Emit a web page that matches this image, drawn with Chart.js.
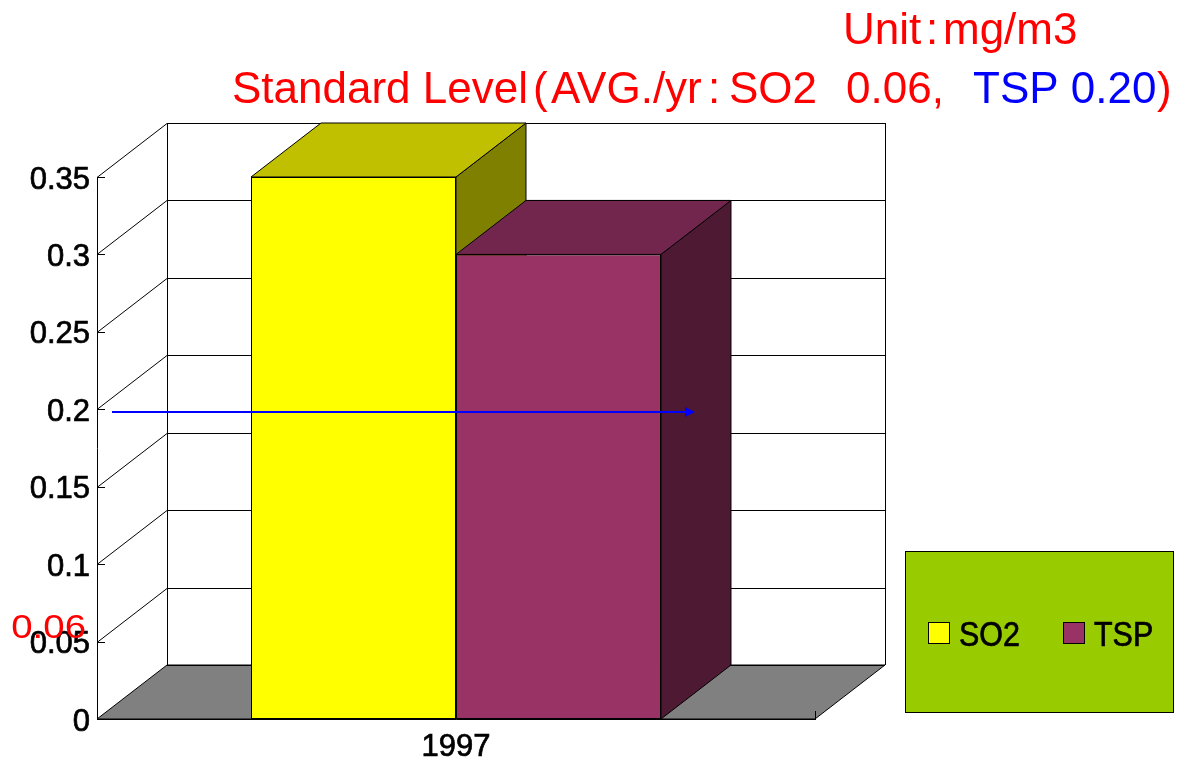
<!DOCTYPE html>
<html>
<head>
<meta charset="utf-8">
<title>SO2 and TSP 1997</title>
<script src="https://cdn.jsdelivr.net/npm/chart.js@4/dist/chart.umd.min.js"></script>
<style>
  html, body { margin: 0; padding: 0; background: #fff; overflow: hidden; }
  canvas { display: block; }
</style>
</head>
<body>
<canvas id="chart" width="1178" height="764"></canvas>
<script>
const categories = ["1997"];
const so2Values = [0.35];
const tspValues = [0.30];
const yTickLabels = ["0", "0.05", "0.1", "0.15", "0.2", "0.25", "0.3", "0.35"];
const so2Standard = 0.06;
const tspArrowValue = 0.198;

const FONT = '"Liberation Sans", Arial, sans-serif';
const DEPTH_X = 70;
const DEPTH_Y = 54;

const so2Colors = { front: "#FFFF00", top: "#C0C000", side: "#808000" };
const tspColors = { front: "#993366", top: "#73264D", side: "#4D1933" };

function poly(ctx, points, fill) {
  ctx.beginPath();
  points.forEach((p, i) => (i ? ctx.lineTo(p[0], p[1]) : ctx.moveTo(p[0], p[1])));
  ctx.closePath();
  if (fill) {
    ctx.fillStyle = fill;
    ctx.fill();
  }
  ctx.strokeStyle = "#000";
  ctx.lineWidth = 1;
  ctx.stroke();
}

function line(ctx, x1, y1, x2, y2) {
  ctx.beginPath();
  ctx.moveTo(x1, y1);
  ctx.lineTo(x2, y2);
  ctx.strokeStyle = "#000";
  ctx.lineWidth = 1;
  ctx.stroke();
}

// stretch squeezes the glyphs sideways, the reference text is not at Arial's own proportions
function text(ctx, str, x, y, font, color, opts = {}) {
  ctx.save();
  ctx.translate(x, y);
  ctx.scale(opts.stretch || 1, 1);
  ctx.font = font;
  ctx.fillStyle = color;
  ctx.textAlign = opts.align || "left";
  ctx.textBaseline = "alphabetic";
  ctx.fillText(str, 0, 0);
  if (opts.stroke) {
    ctx.strokeStyle = color;
    ctx.lineWidth = opts.stroke;
    ctx.strokeText(str, 0, 0);
  }
  ctx.restore();
}

// back wall, floor, gridlines and the top/side faces of the bars
const box3dPlugin = {
  id: "box3d",
  beforeDatasetsDraw(chart) {
    const ctx = chart.ctx;
    const { left, right, top, bottom } = chart.chartArea;
    const yScale = chart.scales.y;

    ctx.save();
    poly(ctx, [[left, bottom], [right, bottom], [right + DEPTH_X, bottom - DEPTH_Y], [left + DEPTH_X, bottom - DEPTH_Y]], "#808080");

    yScale.ticks.forEach((tick) => {
      const y = Math.round(yScale.getPixelForValue(tick.value)) + 0.5;
      if (tick.value > 0) {
        line(ctx, left, y, left + DEPTH_X, y - DEPTH_Y);
      }
      line(ctx, left + DEPTH_X, y - DEPTH_Y, right + DEPTH_X, y - DEPTH_Y);
      line(ctx, left, y, left + 8, y);
    });
    line(ctx, left + DEPTH_X + 0.5, top - DEPTH_Y, left + DEPTH_X + 0.5, bottom - DEPTH_Y);
    line(ctx, right + DEPTH_X + 0.5, top - DEPTH_Y, right + DEPTH_X + 0.5, bottom - DEPTH_Y);
    line(ctx, right + 0.5, bottom, right + 0.5, bottom - 8);

    chart.data.datasets.forEach((dataset, i) => {
      const colors = i === 0 ? so2Colors : tspColors;
      chart.getDatasetMeta(i).data.forEach((bar) => {
        const x1 = bar.x - bar.width / 2;
        const x2 = bar.x + bar.width / 2;
        const yTop = bar.y;
        const yBase = bar.base;
        poly(ctx, [[x2, yTop], [x2 + DEPTH_X, yTop - DEPTH_Y], [x2 + DEPTH_X, yBase - DEPTH_Y], [x2, yBase]], colors.side);
        poly(ctx, [[x1, yTop], [x2, yTop], [x2 + DEPTH_X, yTop - DEPTH_Y], [x1 + DEPTH_X, yTop - DEPTH_Y]], colors.top);
      });
    });
    ctx.restore();
  },

  afterDraw(chart) {
    const ctx = chart.ctx;
    const { left } = chart.chartArea;
    const yScale = chart.scales.y;

    ctx.save();

    // blue arrow
    const arrowY = Math.round(yScale.getPixelForValue(tspArrowValue));
    const arrowStart = left + 15;
    const arrowEnd = left + 598;
    ctx.strokeStyle = "#0000FF";
    ctx.lineWidth = 2;
    ctx.beginPath();
    ctx.moveTo(arrowStart, arrowY);
    ctx.lineTo(arrowEnd - 8, arrowY);
    ctx.stroke();
    ctx.fillStyle = "#0000FF";
    ctx.beginPath();
    ctx.moveTo(arrowEnd, arrowY);
    ctx.lineTo(arrowEnd - 10, arrowY - 5);
    ctx.lineTo(arrowEnd - 10, arrowY + 5);
    ctx.closePath();
    ctx.fill();

    // SO2 standard label beside the axis
    text(ctx, so2Standard.toFixed(2), left - 11, yScale.getPixelForValue(so2Standard) + 12, `34px ${FONT}`, "#FF0000", { align: "right", stretch: 1.13 });

    // heading
    const headFont = `44px ${FONT}`;
    text(ctx, "Unit", 843, 44, headFont, "#FF0000");
    text(ctx, ":", 926, 44, headFont, "#FF0000");
    text(ctx, "mg/m3", 943, 44, headFont, "#FF0000");
    text(ctx, "Standard Level", 232, 103, headFont, "#FF0000");
    text(ctx, "(", 533, 103, headFont, "#FF0000");
    text(ctx, "AVG./yr", 551, 103, headFont, "#FF0000");
    text(ctx, ":", 708, 103, headFont, "#FF0000");
    text(ctx, "SO2", 729, 103, headFont, "#FF0000");
    text(ctx, "0.06,", 846, 103, headFont, "#FF0000");
    text(ctx, "TSP 0.20", 973, 103, headFont, "#0000FF");
    text(ctx, ")", 1157, 103, headFont, "#FF0000");

    // legend box
    ctx.fillStyle = "#99CC00";
    ctx.fillRect(905.5, 551.5, 268, 161);
    ctx.strokeStyle = "#000";
    ctx.lineWidth = 1;
    ctx.strokeRect(905.5, 551.5, 268, 161);
    ctx.fillStyle = so2Colors.front;
    ctx.fillRect(928.5, 622.5, 21, 21);
    ctx.strokeRect(928.5, 622.5, 21, 21);
    ctx.fillStyle = tspColors.front;
    ctx.fillRect(1063.5, 622.5, 21, 21);
    ctx.strokeRect(1063.5, 622.5, 21, 21);
    const legendFont = `35px ${FONT}`;
    const legendOpts = { stretch: 0.87, stroke: 0.7 };
    text(ctx, chart.data.datasets[0].label, 959, 646, legendFont, "#000", legendOpts);
    text(ctx, chart.data.datasets[1].label, 1094, 646, legendFont, "#000", legendOpts);

    ctx.restore();
  }
};

new Chart(document.getElementById("chart"), {
  type: "bar",
  plugins: [box3dPlugin],
  data: {
    labels: categories,
    datasets: [
      {
        label: "SO2",
        data: so2Values,
        backgroundColor: so2Colors.front,
        borderColor: "#000",
        borderWidth: 1,
        borderSkipped: false
      },
      {
        label: "TSP",
        data: tspValues,
        backgroundColor: tspColors.front,
        borderColor: "#000",
        borderWidth: 1,
        borderSkipped: false
      }
    ]
  },
  options: {
    responsive: false,
    animation: false,
    layout: { padding: { left: 0, right: 363, top: 177, bottom: 0 } },
    plugins: {
      legend: { display: false },
      title: { display: false },
      tooltip: { enabled: false }
    },
    datasets: { bar: { categoryPercentage: 0.571, barPercentage: 1 } },
    scales: {
      x: {
        afterFit: (scale) => { scale.height = 45; },
        grid: { display: false, drawTicks: false },
        border: { display: true, color: "#000", width: 1 },
        ticks: {
          color: "#000",
          padding: 10,
          textStrokeColor: "#000",
          textStrokeWidth: 0.7,
          font: { family: FONT, size: 31 }
        }
      },
      y: {
        min: 0,
        max: 0.35,
        afterFit: (scale) => { scale.width = 97; },
        grid: { display: false, drawTicks: false },
        border: { display: true, color: "#000", width: 1 },
        ticks: {
          stepSize: 0.05,
          color: "#000",
          padding: 7,
          labelOffset: 3,
          textStrokeColor: "#000",
          textStrokeWidth: 0.7,
          font: { family: FONT, size: 31 },
          callback: (value, index) => yTickLabels[index]
        }
      }
    }
  }
});
</script>
</body>
</html>
